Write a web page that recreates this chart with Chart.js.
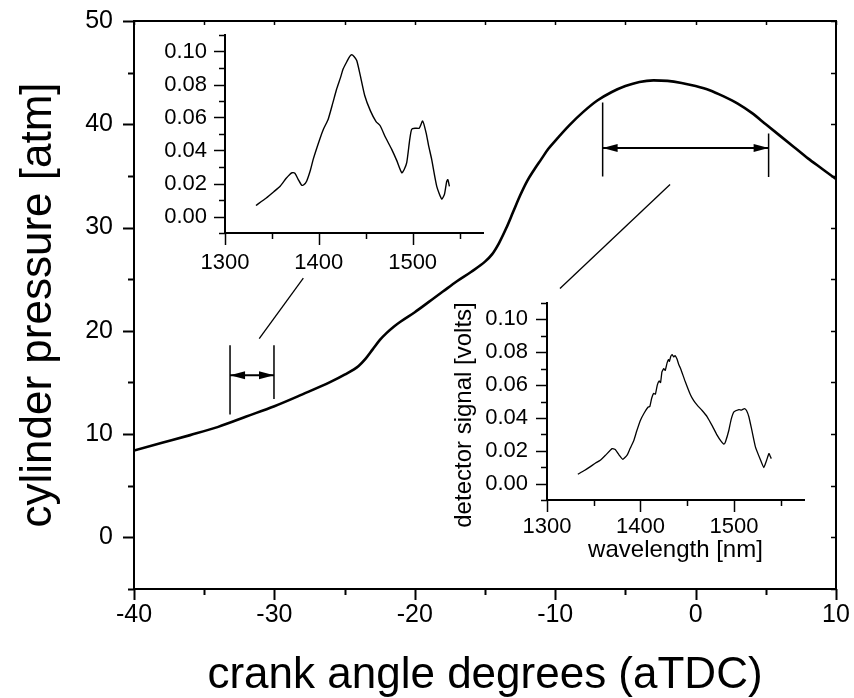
<!DOCTYPE html>
<html>
<head>
<meta charset="utf-8">
<script src="https://cdn.jsdelivr.net/npm/chart.js@4.4.0/dist/chart.umd.min.js"></script>
<style>
body{margin:0;background:#fff;}
#wrap{position:relative;width:854px;height:698px;overflow:hidden;}
#wrap canvas{position:absolute;}
</style>
</head>
<body>
<div id="wrap">
<canvas id="main" width="854" height="698" style="left:0;top:0"></canvas>
<canvas id="inset1" width="345" height="260" style="left:150px;top:25px"></canvas>
<canvas id="inset2" width="380" height="280" style="left:440px;top:290px"></canvas>
</div>
<script>
// main curve: cylinder pressure vs crank angle
const angle = [-40,-38,-36,-34,-32,-30,-28,-26,-25,-24,-23.5,-23,-22.5,-22,-21.5,-21,-20,-19,-18,-17,-16,-15,-14.5,-14,-13.5,-13,-12.5,-12,-11.5,-11,-10.5,-10,-9,-8,-7,-6,-5,-4,-3,-2,-1,0,1,2,3,4,5,6,7,8,9,10];
const pressure = [8.4,9.15,9.9,10.7,11.7,12.7,13.85,15.05,15.75,16.6,17.3,18.2,19.1,19.8,20.4,20.9,21.8,22.8,23.8,24.8,25.7,26.7,27.4,28.5,29.9,31.5,33.1,34.5,35.6,36.6,37.6,38.4,39.9,41.2,42.3,43.1,43.7,44.1,44.25,44.2,44.0,43.7,43.3,42.7,42.0,41.1,40.0,38.9,37.8,36.7,35.7,34.7];

// upper inset spectrum
const wl1 = [1333,1344,1352,1359,1365,1369,1371.5,1374.5,1378,1381.8,1384,1387,1391,1394,1401,1405,1410,1415,1419,1423,1426,1430,1433,1435,1437.5,1440.4,1444,1449,1455,1461,1465.4,1471,1477.7,1483,1488.4,1491,1493.7,1497,1499,1502.5,1507,1510.7,1514.3,1517,1520.3,1525.7,1531,1533.9,1536.3,1537.5,1539.2];
const sig1 = [0.0067,0.0112,0.0150,0.0185,0.0230,0.0255,0.0265,0.0262,0.0225,0.0189,0.0192,0.0214,0.0280,0.0346,0.0468,0.0530,0.0590,0.0690,0.0773,0.0840,0.0895,0.0940,0.0970,0.0980,0.0970,0.0945,0.0860,0.0732,0.0640,0.0575,0.0550,0.0480,0.0407,0.0340,0.0265,0.0285,0.0326,0.0470,0.0529,0.0535,0.0535,0.0579,0.0508,0.0430,0.0346,0.0183,0.0106,0.0134,0.0213,0.0223,0.0183];

// lower inset spectrum
const wl2 = [1333,1340,1346,1352,1357,1363,1369.6,1373,1377,1381,1385.7,1389,1393,1396,1400,1404,1408,1410,1412,1414,1416,1418,1420,1421.5,1423,1425,1426.5,1428.5,1430,1431,1432.5,1434,1435.5,1437,1439,1441,1443,1448,1453.6,1457,1460.7,1466,1471.4,1477,1482,1486,1489.3,1491,1494.6,1497,1500,1505.4,1508,1511.4,1513.5,1516,1519,1523,1528.6,1532,1535,1537.5,1539,1540];
const sig2 = [0.0057,0.0080,0.0102,0.0125,0.0142,0.0175,0.0213,0.0207,0.0175,0.0148,0.0173,0.0215,0.0264,0.0320,0.0386,0.0430,0.0465,0.0470,0.0520,0.0549,0.0545,0.0600,0.0625,0.0615,0.0680,0.0700,0.0690,0.0735,0.0755,0.0745,0.0775,0.0785,0.0772,0.0780,0.0760,0.0725,0.0700,0.0620,0.0539,0.0505,0.0478,0.0445,0.0407,0.0350,0.0295,0.0260,0.0240,0.0255,0.0325,0.0390,0.0437,0.0451,0.0448,0.0457,0.0445,0.0407,0.0330,0.0224,0.0142,0.0098,0.0142,0.0183,0.0165,0.0152];

// bracket markers on the main curve (crank angle / pressure units)
const bracketA_x = [-33.16,-30.03];
const bracketA_top = [18.6,18.6];
const bracketA_bottom = [11.9,13.4];
const bracketA_arrow = 15.7;
const leaderA = [[-31.08,19.24],[-27.94,25.1]];

const bracketB_x = [-6.62,5.2];
const bracketB_top = [42.1,39.1];
const bracketB_bottom = [34.95,34.9];
const bracketB_arrow = 37.7;
const leaderB = [[-1.82,34.17],[-9.66,24.1]];

Chart.defaults.font.family = "'Liberation Sans', Arial, sans-serif";
Chart.defaults.color = "#000";
Chart.defaults.animation = false;

function pts(xs, ys){
  return xs.map((x,i)=>({x:x, y:ys[i]}));
}
function seg(p, q, w){
  return {data:[{x:p[0],y:p[1]},{x:q[0],y:q[1]}], borderColor:"#000", borderWidth:w, pointRadius:0, tension:0};
}
// fixed axis box, no extra label padding
function fitW(w){ return function(s){ s.width=w; s.paddingTop=0; s.paddingBottom=0; }; }
function fitH(h){ return function(s){ s.height=h; s.paddingLeft=0; s.paddingRight=0; }; }

// draws tick marks on a scale edge; dir=-1/1 away from the edge
function marks(list){
  return {
    id:"marks",
    afterDraw(chart){
      var ctx=chart.ctx, a=chart.chartArea;
      ctx.save();
      ctx.strokeStyle="#000";
      list.forEach(function(m){
        var sc=chart.scales[m.id];
        var n=Math.round((m.max-m.min)/m.step);
        ctx.lineWidth=m.w||1.5;
        for(var i=0;i<=n;i++){
          var v=m.min+i*m.step;
          var r=v/m.major;
          var len=Math.abs(r-Math.round(r))<1e-6 ? m.majLen : m.minLen;
          var p=Math.round(sc.getPixelForValue(v))+0.5;
          var e=a[m.edge];
          ctx.beginPath();
          if(m.edge=="left"||m.edge=="right"){
            ctx.moveTo(e,p); ctx.lineTo(e+m.dir*len,p);
          } else {
            ctx.moveTo(p,e); ctx.lineTo(p,e+m.dir*len);
          }
          ctx.stroke();
        }
      });
      ctx.restore();
    }
  };
}

var framePlugin = {
  id:"frame",
  afterDraw(chart){
    var ctx=chart.ctx, a=chart.chartArea;
    ctx.save();
    ctx.strokeStyle="#000";
    ctx.lineWidth=2;
    ctx.beginPath();
    ctx.moveTo(a.left,a.top); ctx.lineTo(a.right,a.top); ctx.lineTo(a.right,a.bottom);
    ctx.stroke();
    ctx.restore();
  }
};

var arrowPlugin = {
  id:"arrows",
  afterDatasetsDraw(chart){
    var ctx=chart.ctx, xs=chart.scales.x, ys=chart.scales.y;
    ctx.save();
    ctx.fillStyle="#000";
    [[bracketA_x,bracketA_arrow],[bracketB_x,bracketB_arrow]].forEach(function(b){
      var y=ys.getPixelForValue(b[1]);
      var l=xs.getPixelForValue(b[0][0]), r=xs.getPixelForValue(b[0][1]);
      ctx.beginPath();
      ctx.moveTo(l,y); ctx.lineTo(l+15,y-4); ctx.lineTo(l+15,y+4); ctx.closePath(); ctx.fill();
      ctx.beginPath();
      ctx.moveTo(r,y); ctx.lineTo(r-15,y-4); ctx.lineTo(r-15,y+4); ctx.closePath(); ctx.fill();
    });
    ctx.restore();
  }
};

var mainSets = [
  {data:pts(angle,pressure), borderColor:"#000", borderWidth:2.6, pointRadius:0, cubicInterpolationMode:"monotone"},
  seg([bracketA_x[0],bracketA_top[0]],[bracketA_x[0],bracketA_bottom[0]],1.5),
  seg([bracketA_x[1],bracketA_top[1]],[bracketA_x[1],bracketA_bottom[1]],1.5),
  seg([bracketA_x[0],bracketA_arrow],[bracketA_x[1],bracketA_arrow],2),
  seg(leaderA[0],leaderA[1],1.3),
  seg([bracketB_x[0],bracketB_top[0]],[bracketB_x[0],bracketB_bottom[0]],1.5),
  seg([bracketB_x[1],bracketB_top[1]],[bracketB_x[1],bracketB_bottom[1]],1.5),
  seg([bracketB_x[0],bracketB_arrow],[bracketB_x[1],bracketB_arrow],2),
  seg(leaderB[0],leaderB[1],1.3)
];

new Chart(document.getElementById("main"), {
  type:"line",
  data:{datasets:mainSets},
  options:{
    responsive:false,
    layout:{padding:{left:0,top:21,right:18,bottom:0}},
    plugins:{legend:{display:false},tooltip:{enabled:false}},
    scales:{
      x:{
        type:"linear", min:-40, max:10,
        afterFit:fitH(109),
        grid:{display:false,drawTicks:false},
        border:{display:true,color:"#000",width:2},
        ticks:{stepSize:5,autoSkip:false,maxRotation:0,padding:11,font:{size:25},
          callback:v=>v%10==0?String(v):""},
        title:{display:true,text:"crank angle degrees (aTDC)",font:{size:44,lineHeight:1},padding:{top:0,bottom:0}}
      },
      y:{
        type:"linear", min:-5, max:50,
        afterFit:fitW(134),
        grid:{display:false,drawTicks:false},
        border:{display:true,color:"#000",width:2},
        ticks:{stepSize:5,autoSkip:false,padding:21,font:{size:25},
          callback:v=>(v%10==0&&v>=0)?String(v):""},
        title:{display:true,text:"cylinder pressure [atm]",font:{size:44,lineHeight:1},padding:{top:17,bottom:0}}
      }
    }
  },
  plugins:[framePlugin, arrowPlugin, marks([
    {id:"y",edge:"left",dir:-1,min:-5,max:50,step:5,major:10,majLen:11,minLen:6,w:2},
    {id:"x",edge:"bottom",dir:1,min:-40,max:10,step:5,major:10,majLen:11,minLen:6,w:2},
    {id:"y",edge:"right",dir:-1,min:-5,max:50,step:5,major:10,majLen:5,minLen:5,w:1.5},
    {id:"x",edge:"top",dir:1,min:-40,max:10,step:5,major:10,majLen:4,minLen:4,w:1.5}
  ])]
});

function insetTick(v){
  var n=Math.round(v*100);
  return (n>=0&&n<=10&&n%2==0)?(n/100).toFixed(2):"";
}

function insetOptions(o){
  return {
    responsive:false,
    layout:{padding:{left:0,top:o.top,right:o.right,bottom:0}},
    plugins:{legend:{display:false},tooltip:{enabled:false}},
    scales:{
      x:{
        type:"linear", min:1300, max:1575,
        afterFit:fitH(o.xh),
        grid:{display:false,drawTicks:false},
        border:{display:true,color:"#000",width:2},
        ticks:{stepSize:50,autoSkip:false,maxRotation:0,padding:o.xpad,font:{size:o.fs},
          callback:v=>v%100==0?String(v):""},
        title:o.xtitle
      },
      y:{
        type:"linear", min:-0.01, max:0.11,
        afterFit:fitW(o.yw),
        grid:{display:false,drawTicks:false},
        border:{display:true,color:"#000",width:2},
        ticks:{stepSize:0.01,autoSkip:false,padding:o.ypad,font:{size:o.fs},callback:insetTick}
      }
    }
  };
}

var insetMarks = marks([
  {id:"y",edge:"left",dir:-1,min:-0.01,max:0.11,step:0.01,major:0.02,majLen:11,minLen:6,w:1.5},
  {id:"x",edge:"bottom",dir:1,min:1300,max:1550,step:50,major:100,majLen:12,minLen:6,w:1.5}
]);

new Chart(document.getElementById("inset1"), {
  type:"line",
  data:{datasets:[{data:pts(wl1,sig1), borderColor:"#000", borderWidth:1.4, pointRadius:0, tension:0.2}]},
  options:insetOptions({top:10,right:12,xh:52,yw:75,xpad:17,ypad:18,fs:22,xtitle:{display:false}}),
  plugins:[insetMarks]
});

var volts = {
  id:"volts",
  afterDraw(chart){
    var ctx=chart.ctx;
    ctx.save();
    ctx.translate(24,125);
    ctx.rotate(-Math.PI/2);
    ctx.font="24px 'Liberation Sans', Arial, sans-serif";
    ctx.fillStyle="#000";
    ctx.textAlign="center";
    ctx.textBaseline="middle";
    ctx.fillText("detector signal [volts]",0,0);
    ctx.restore();
  }
};

new Chart(document.getElementById("inset2"), {
  type:"line",
  data:{datasets:[{data:pts(wl2,sig2), borderColor:"#000", borderWidth:1.3, pointRadius:0, tension:0.15}]},
  options:insetOptions({top:13,right:16,xh:70,yw:107,xpad:14,ypad:19,fs:22,
    xtitle:{display:true,text:"wavelength [nm]",font:{size:24,lineHeight:1.2},padding:{top:0,bottom:5}}}),
  plugins:[insetMarks, volts]
});
</script>
</body>
</html>
